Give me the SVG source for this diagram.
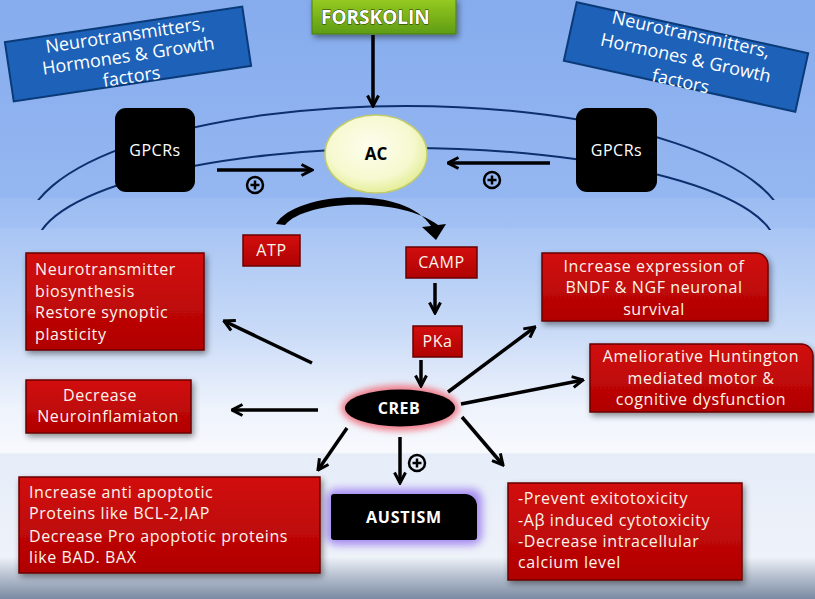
<svg xmlns="http://www.w3.org/2000/svg" width="815" height="599" viewBox="0 0 815 599">
<defs>
<linearGradient id="bg" x1="0" y1="0" x2="0" y2="1">
<stop offset="0" stop-color="#86acee"/>
<stop offset="0.33" stop-color="#95b7f1"/>
<stop offset="0.332" stop-color="#9dbdf2"/>
<stop offset="0.38" stop-color="#a2c0f3"/>
<stop offset="0.382" stop-color="#a8c5f4"/>
<stop offset="0.55" stop-color="#c8daf7"/>
<stop offset="0.68" stop-color="#eef3fc"/>
<stop offset="0.755" stop-color="#f7f9fd"/>
<stop offset="0.758" stop-color="#e6edf9"/>
<stop offset="0.93" stop-color="#eef2f9"/>
<stop offset="0.96" stop-color="#b9c3d2"/>
<stop offset="1" stop-color="#7b8aa2"/>
</linearGradient>
<linearGradient id="red" x1="0" y1="0" x2="0" y2="1">
<stop offset="0" stop-color="#d20e0e"/>
<stop offset="1" stop-color="#b00202"/>
</linearGradient>
<linearGradient id="green" x1="0" y1="0" x2="0" y2="1">
<stop offset="0" stop-color="#98cc22"/>
<stop offset="1" stop-color="#5e9c12"/>
</linearGradient>
<radialGradient id="ac" cx="0.45" cy="0.4" r="0.6">
<stop offset="0" stop-color="#fdfdee"/>
<stop offset="0.7" stop-color="#f6f9cf"/>
<stop offset="1" stop-color="#e4ee9a"/>
</radialGradient>
<filter id="blur4" x="-30%" y="-60%" width="160%" height="220%"><feGaussianBlur stdDeviation="4"/></filter>
<filter id="blur3" x="-30%" y="-60%" width="160%" height="220%"><feGaussianBlur stdDeviation="3"/></filter>
<filter id="shadow" x="-10%" y="-20%" width="130%" height="160%"><feGaussianBlur in="SourceAlpha" stdDeviation="3"/><feOffset dx="2" dy="3"/><feComponentTransfer><feFuncA type="linear" slope="0.45"/></feComponentTransfer><feMerge><feMergeNode/><feMergeNode in="SourceGraphic"/></feMerge></filter>
<clipPath id="clipOuter"><rect x="0" y="0" width="815" height="200"/></clipPath>
<clipPath id="clipInner"><rect x="0" y="0" width="815" height="230"/></clipPath>
<marker id="ah" viewBox="0 0 14 14" refX="12.5" refY="7" markerWidth="14" markerHeight="14" markerUnits="userSpaceOnUse" orient="auto">
<path d="M2,1.5 L12.5,7 L2,12.5" fill="none" stroke="#000" stroke-width="3" stroke-linejoin="miter"/>
</marker>
<style>
.t{font-family:"Open Sans","Noto Sans","Liberation Sans",sans-serif;fill:#fff}
.rt{font-size:16px;letter-spacing:0.6px;fill:#fbf4ea}
.bt{font-size:18px}
.box{fill:url(#red);stroke:#6a0000;stroke-width:1.5}
.blue{fill:#1d62b8;stroke:#0b3a78;stroke-width:2}
.gp{fill:#000}
.mem{fill:none;stroke:#0d2f6e;stroke-width:2}
.arr{stroke:#000;stroke-width:3.5;fill:none;marker-end:url(#ah)}
.plus{fill:none;stroke:#000;stroke-width:2.5}
</style>
</defs>

<rect x="0" y="0" width="815" height="599" fill="url(#bg)"/>

<g id="membrane">
<ellipse cx="406" cy="232" rx="380" ry="126" class="mem" clip-path="url(#clipOuter)"/>
<ellipse cx="406" cy="248" rx="370" ry="100" class="mem" clip-path="url(#clipInner)"/>
</g>

<g id="signals-left">
<g transform="translate(128,54) rotate(-8.5)">
<rect x="-120" y="-30" width="240" height="60" class="blue"/>
<text class="t bt" x="0" y="-13" text-anchor="middle">Neurotransmitters,</text>
<text class="t bt" x="0" y="8" text-anchor="middle">Hormones &amp; Growth</text>
<text class="t bt" x="0" y="29" text-anchor="middle">factors</text>
</g>
</g>

<g id="signals-right">
<g transform="translate(686,57) rotate(12.4)">
<rect x="-118.5" y="-30" width="237" height="60" class="blue"/>
<text class="t bt" x="0" y="-17" text-anchor="middle">Neurotransmitters,</text>
<text class="t bt" x="0" y="7" text-anchor="middle">Hormones &amp; Growth</text>
<text class="t bt" x="0" y="31" text-anchor="middle">factors</text>
</g>
</g>

<g id="forskolin">
<rect x="312" y="-2" width="144" height="36" fill="url(#green)" stroke="#4d7f10" stroke-width="1" filter="url(#shadow)"/>
<text class="t" x="321" y="24" font-size="19" font-weight="bold" stroke="#1a2a05" stroke-width="0.8" paint-order="stroke">FORSKOLIN</text>
</g>

<g id="gpcr-left">
<rect x="115" y="108" width="80" height="84" rx="11" class="gp"/>
<text class="t" x="155" y="156" font-size="16" text-anchor="middle" letter-spacing="0.5">GPCRs</text>
</g>

<g id="gpcr-right">
<rect x="576" y="108" width="81" height="84" rx="11" class="gp"/>
<text class="t" x="616.5" y="156" font-size="16" text-anchor="middle" letter-spacing="0.5">GPCRs</text>
</g>

<g id="ac">
<ellipse cx="376" cy="154" rx="51" ry="39" fill="url(#ac)" stroke="#c3cc6a" stroke-width="1.5"/>
<text x="376" y="160" font-family="Open Sans, Liberation Sans, sans-serif" font-size="17" font-weight="bold" text-anchor="middle" fill="#000">AC</text>
</g>

<g id="atp">
<rect x="243" y="235" width="57" height="31" class="box"/>
<text class="t rt" x="271.5" y="256" text-anchor="middle">ATP</text>
</g>

<g id="camp">
<rect x="406" y="247" width="71" height="31" class="box"/>
<text class="t rt" x="441.5" y="268" text-anchor="middle">CAMP</text>
</g>

<g id="pka">
<rect x="413" y="326" width="49" height="31" class="box"/>
<text class="t rt" x="437.5" y="347" text-anchor="middle">PKa</text>
</g>

<g id="creb">
<ellipse cx="400" cy="408" rx="59" ry="23" fill="#f07f8c" filter="url(#blur3)"/>
<ellipse cx="400" cy="408" rx="55" ry="18.5" fill="#000"/>
<text class="t" x="399" y="414" font-size="16" font-weight="bold" text-anchor="middle" letter-spacing="0.5">CREB</text>
</g>

<g id="austism">
<rect x="326" y="489" width="156" height="56" rx="10" fill="#a58af0" filter="url(#blur4)"/>
<path d="M334,494 H465 A12,12 0 0 1 477,506 V537 A3,3 0 0 1 474,540 H334 A3,3 0 0 1 331,537 V497 A3,3 0 0 1 334,494 Z" fill="#000"/>
<text class="t" x="404" y="523" font-size="16" font-weight="bold" text-anchor="middle" letter-spacing="0.8">AUSTISM</text>
</g>

<g id="neurotransmitter-box">
<rect x="26" y="253" width="178" height="97" class="box" filter="url(#shadow)"/>
<text class="t rt" x="35" y="275">Neurotransmitter</text>
<text class="t rt" x="35" y="297">biosynthesis</text>
<text class="t rt" x="35" y="318">Restore synoptic</text>
<text class="t rt" x="35" y="340">plasticity</text>
</g>

<g id="neuroinflammation-box">
<rect x="26" y="380" width="165" height="53" class="box" filter="url(#shadow)"/>
<text class="t rt" x="100" y="401" text-anchor="middle">Decrease</text>
<text class="t rt" x="108" y="422" text-anchor="middle">Neuroinflamiaton</text>
</g>

<g id="apoptotic-box">
<rect x="19" y="477" width="301" height="96" class="box" filter="url(#shadow)"/>
<text class="t rt" x="29" y="498">Increase anti apoptotic</text>
<text class="t rt" x="29" y="519">Proteins like BCL-2,IAP</text>
<text class="t rt" x="29" y="542">Decrease Pro apoptotic proteins</text>
<text class="t rt" x="29" y="563">like BAD. BAX</text>
</g>

<g id="bndf-box">
<path d="M542,253 H756 A12,12 0 0 1 768,265 V321 H542 Z" class="box" filter="url(#shadow)"/>
<text class="t rt" x="654" y="272" text-anchor="middle">Increase expression of</text>
<text class="t rt" x="654" y="293" text-anchor="middle">BNDF &amp; NGF neuronal</text>
<text class="t rt" x="654" y="315" text-anchor="middle">survival</text>
</g>

<g id="huntington-box">
<path d="M590,344 H801 A12,12 0 0 1 813,356 V412 H590 Z" class="box" filter="url(#shadow)"/>
<text class="t rt" x="701" y="362" text-anchor="middle">Ameliorative Huntington</text>
<text class="t rt" x="701" y="384" text-anchor="middle">mediated motor &amp;</text>
<text class="t rt" x="701" y="405" text-anchor="middle">cognitive dysfunction</text>
</g>

<g id="exitotoxicity-box">
<rect x="508" y="483" width="234" height="97" class="box" filter="url(#shadow)"/>
<text class="t rt" x="518" y="504">-Prevent exitotoxicity</text>
<text class="t rt" x="518" y="526">-Aβ induced cytotoxicity</text>
<text class="t rt" x="518" y="547">-Decrease intracellular</text>
<text class="t rt" x="518" y="568">calcium level</text>
</g>

<g id="connectors">
<line class="arr" x1="373" y1="35" x2="373" y2="106"/>
<line class="arr" x1="217" y1="170" x2="312" y2="170"/>
<line class="arr" x1="550" y1="163" x2="448" y2="163"/>
<path d="M276,224 C294,192 404,184 431,226 L422,227 L436,240 L446,224 L438,225 C400,196 305,200 285,225 Z" fill="#000"/>
<line class="arr" x1="435" y1="283" x2="435" y2="313"/>
<line class="arr" x1="421" y1="360" x2="421" y2="386"/>
<line class="arr" x1="312" y1="363" x2="224" y2="321"/>
<line class="arr" x1="318" y1="410" x2="232" y2="410"/>
<line class="arr" x1="347" y1="428" x2="318" y2="470"/>
<line class="arr" x1="400" y1="437" x2="400" y2="483"/>
<line class="arr" x1="462" y1="417" x2="503" y2="465"/>
<line class="arr" x1="461" y1="404" x2="583" y2="380"/>
<line class="arr" x1="448" y1="392" x2="535" y2="327"/>
<g class="plus">
<circle cx="255" cy="185" r="8"/><path d="M250.5,185 H259.5 M255,180.5 V189.5"/>
<circle cx="492" cy="180" r="8"/><path d="M487.5,180 H496.5 M492,175.5 V184.5"/>
<circle cx="417" cy="463" r="8"/><path d="M412.5,463 H421.5 M417,458.5 V467.5"/>
</g>
</g>
</svg>
